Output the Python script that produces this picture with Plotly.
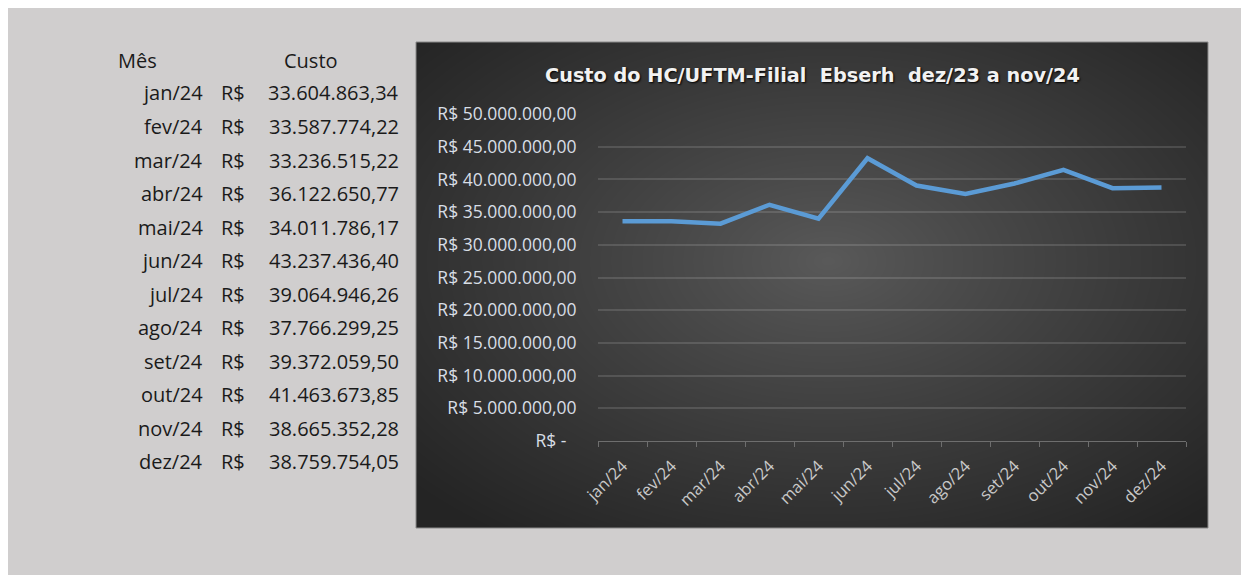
import base64, struct, zlib
import numpy as np
import plotly.graph_objects as go

# ---------------- data ----------------
meses = ["jan/24", "fev/24", "mar/24", "abr/24", "mai/24", "jun/24",
         "jul/24", "ago/24", "set/24", "out/24", "nov/24", "dez/24"]
custos = [33604863.34, 33587774.22, 33236515.22, 36122650.77, 34011786.17,
          43237436.40, 39064946.26, 37766299.25, 39372059.50, 41463673.85,
          38665352.28, 38759754.05]
custos_txt = ["33.604.863,34", "33.587.774,22", "33.236.515,22", "36.122.650,77",
              "34.011.786,17", "43.237.436,40", "39.064.946,26", "37.766.299,25",
              "39.372.059,50", "41.463.673,85", "38.665.352,28", "38.759.754,05"]
y_tickvals = [0, 5e6, 10e6, 15e6, 20e6, 25e6, 30e6, 35e6, 40e6, 45e6, 50e6]
y_ticktext = ["R$ -<span style='color:rgba(0,0,0,0)'>0</span>", "R$ 5.000.000,00",
              "R$ 10.000.000,00", "R$ 15.000.000,00",
              "R$ 20.000.000,00", "R$ 25.000.000,00", "R$ 30.000.000,00",
              "R$ 35.000.000,00", "R$ 40.000.000,00", "R$ 45.000.000,00",
              "R$ 50.000.000,00"]
titulo = "Custo do HC/UFTM-Filial  Ebserh  dez/23 a nov/24"

# ---------------- geometry (screen px, page has 8px body margin) ----------------
OFF = 8
W, H = 1262, 580
L, R = 598 - OFF, W - (1186 - OFF)
T, B = 114 - OFF, H - (441 - OFF)
PW, PH = W - L - R, H - T - B


def px(x):
    return (x - OFF - L) / PW


def py(y):
    return (H - B - (y - OFF)) / PH


# ---------------- gradient background image ----------------
def make_png(arr):
    h, w, _ = arr.shape
    raw = b"".join(b"\x00" + arr[i].tobytes() for i in range(h))

    def chunk(tag, data):
        c = struct.pack(">I", len(data)) + tag + data
        return c + struct.pack(">I", zlib.crc32(tag + data) & 0xFFFFFFFF)

    return (b"\x89PNG\r\n\x1a\n" + chunk(b"IHDR", struct.pack(">IIBBBBB", w, h, 8, 2, 0, 0, 0))
            + chunk(b"IDAT", zlib.compress(raw, 9)) + chunk(b"IEND", b""))


bx0, by0, bx1, by1 = 416, 42, 1208, 528
gw, gh = bx1 - bx0, by1 - by0
yy, xx = np.mgrid[0:gh, 0:gw]
cx, cy = gw * 0.52, gh * 0.45
d = np.sqrt(((xx - cx) / (gw / 2)) ** 2 + ((yy - cy) / (gh / 2)) ** 2) / np.sqrt(2)
d = np.clip(d, 0, 1)
v = (0x5a - (0x5a - 0x24) * d ** 0.9).astype(np.uint8)
img = np.stack([v, v, v], axis=-1)
src = "data:image/png;base64," + base64.b64encode(make_png(img)).decode()

fig = go.Figure()
fig.add_trace(go.Scatter(x=meses, y=custos, mode="lines",
                         line=dict(color="#5b9bd5", width=4.5),
                         hoverinfo="skip", showlegend=False))

fig.add_layout_image(dict(source=src, xref="paper", yref="paper",
                          x=px(bx0), y=py(by0), sizex=px(bx1) - px(bx0),
                          sizey=py(by0) - py(by1), sizing="stretch",
                          xanchor="left", yanchor="top", layer="below"))

shapes = [
    dict(type="rect", xref="paper", yref="paper", x0=px(bx0), x1=px(bx1), y0=py(by1), y1=py(by0),
         fillcolor="rgba(0,0,0,0)", line=dict(color="#8a8a8a", width=1), layer="above"),
]

ann = []
font_tab = dict(family="Open Sans", size=20, color="#1a1a1a")
ann.append(dict(text="Mês", x=px(137), y=py(60), xref="paper", yref="paper",
                xanchor="center", yanchor="middle", showarrow=False, font=font_tab))
ann.append(dict(text="Custo", x=px(311), y=py(60), xref="paper", yref="paper",
                xanchor="center", yanchor="middle", showarrow=False, font=font_tab))
for i, (m, c) in enumerate(zip(meses, custos_txt)):
    yc = 93 + 33.5 * i
    ann.append(dict(text=m, x=px(205), y=py(yc), xref="paper", yref="paper",
                    xanchor="right", yanchor="middle", showarrow=False, font=font_tab))
    ann.append(dict(text="R$", x=px(219), y=py(yc), xref="paper", yref="paper",
                    xanchor="left", yanchor="middle", showarrow=False, font=font_tab))
    ann.append(dict(text=c, x=px(401), y=py(yc), xref="paper", yref="paper",
                    xanchor="right", yanchor="middle", showarrow=False, font=font_tab))
ann.append(dict(text="<b>" + titulo + "</b>", x=px(812), y=py(75), xref="paper", yref="paper",
                xanchor="center", yanchor="middle", showarrow=False,
                font=dict(family="DejaVu Sans", size=19.3, color="#f2f2f2",
                          shadow="1px 1px 2px #000000")))

fig.update_layout(
    width=W, height=H,
    margin=dict(l=L, r=R, t=T, b=B, pad=0),
    paper_bgcolor="#d0cece",
    plot_bgcolor="rgba(0,0,0,0)",
    shapes=shapes,
    annotations=ann,
    xaxis=dict(type="category", range=[-0.5, 11.5], showgrid=False,
               showline=True, linecolor="#6e6e6e", linewidth=1,
               ticks="outside", tickson="boundaries", ticklen=5, tickcolor="#6e6e6e",
               tickangle=-45, ticklabelstandoff=8,
               tickfont=dict(family="Open Sans", size=16.5, color="#c8c8c8"),
               fixedrange=True),
    yaxis=dict(range=[0, 50e6], tickvals=y_tickvals, ticktext=y_ticktext,
               showgrid=True, gridcolor="rgba(255,255,255,0.13)", gridwidth=1.5,
               zeroline=False, showline=False, ticks="outside", ticklen=17,
               tickcolor="rgba(0,0,0,0)",
               tickfont=dict(family="Open Sans", size=17.5, color="#d8dee6"),
               fixedrange=True),
)

fig.write_html("out.html")
